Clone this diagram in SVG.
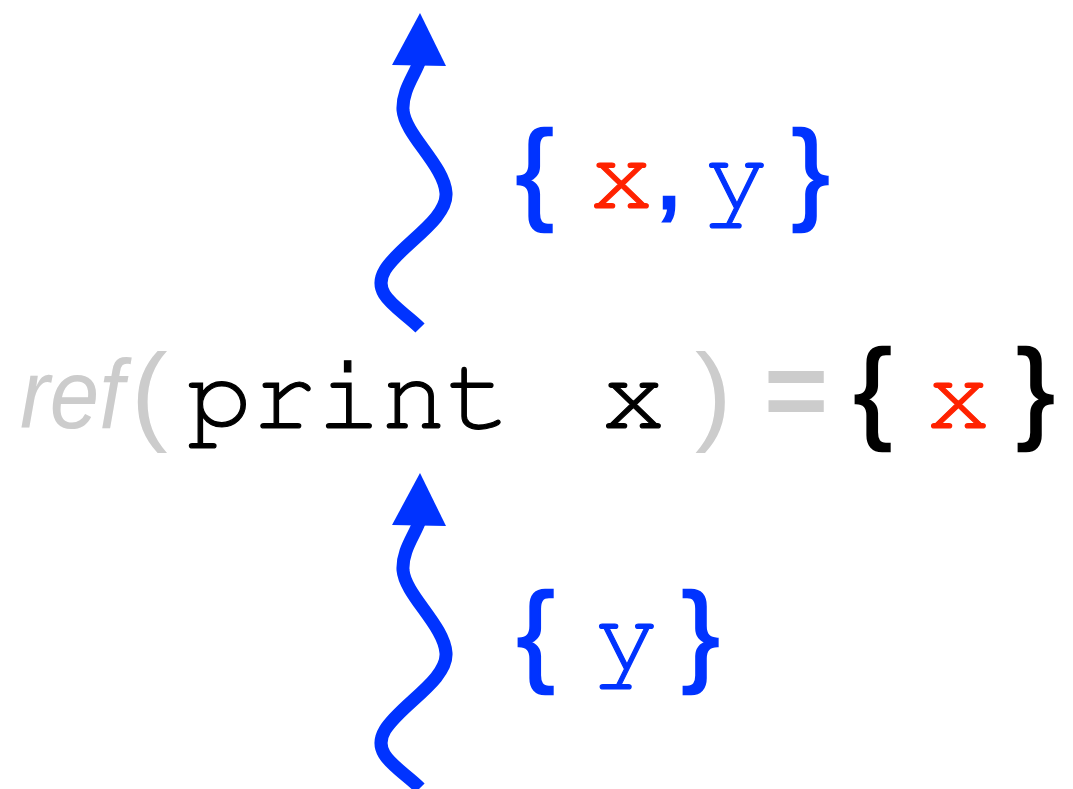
<svg xmlns="http://www.w3.org/2000/svg" width="1073" height="789" viewBox="0 0 1073 789">
<style>
.mono{font-family:"Nimbus Mono PS","FreeMono","Courier 10 Pitch","Courier","Liberation Mono",monospace;font-size:108px;stroke-width:1.2px}
.sans{font-family:"Liberation Sans",Arial,sans-serif}
.brace{font-family:"Liberation Sans",Arial,sans-serif;font-size:112px;stroke-width:2.5px}
.grey{fill:#cccccc}
.blue{fill:#0033ff;stroke:#0033ff}
.red{fill:#ff2200;stroke:#ff2200}
.black{fill:#000000;stroke:#000000}
.wave{fill:none;stroke:#0033ff;stroke-width:13}
.head{fill:#0033ff}
</style>
<defs>
<g id="squiggle">
<path class="wave" d="M 420 328 C 400 308, 370 295, 385 270 C 400 245, 448 220, 446 193 C 444 165, 405 135, 403 110 C 402 90, 415 75, 420 60"/>
<polygon class="head" points="420,13 392,65 446,66"/>
</g>
</defs>
<g id="connectors">
<use href="#squiggle"/>
<use href="#squiggle" transform="translate(0,460)"/>
</g>
<g id="top-label">
<text class="brace blue" x="516" y="209">{</text>
<text class="mono red" x="589" y="208">x</text>
<text class="sans blue" x="655" y="208" font-size="100" stroke-width="3">,</text>
<text class="mono blue" x="704" y="208">y</text>
<text class="brace blue" x="792" y="209">}</text>
</g>
<g id="main">
<text class="sans grey" x="20" y="428" font-size="98" font-style="italic" textLength="104" lengthAdjust="spacingAndGlyphs">ref</text>
<text class="sans grey" x="131" y="430" font-size="110">(</text>
<text class="mono black" x="187" y="428" font-size="113">print</text>
<text class="mono black" x="601" y="428">x</text>
<text class="sans grey" x="695" y="430" font-size="110">)</text>
<text class="sans grey" x="764" y="428" font-size="110" font-weight="bold">=</text>
<text class="brace black" x="854" y="428">{</text>
<text class="mono red" x="926" y="428">x</text>
<text class="brace black" x="1017" y="428">}</text>
</g>
<g id="bottom-label">
<text class="brace blue" x="517" y="671">{</text>
<text class="mono blue" x="594" y="669">y</text>
<text class="brace blue" x="682" y="671">}</text>
</g>
</svg>
